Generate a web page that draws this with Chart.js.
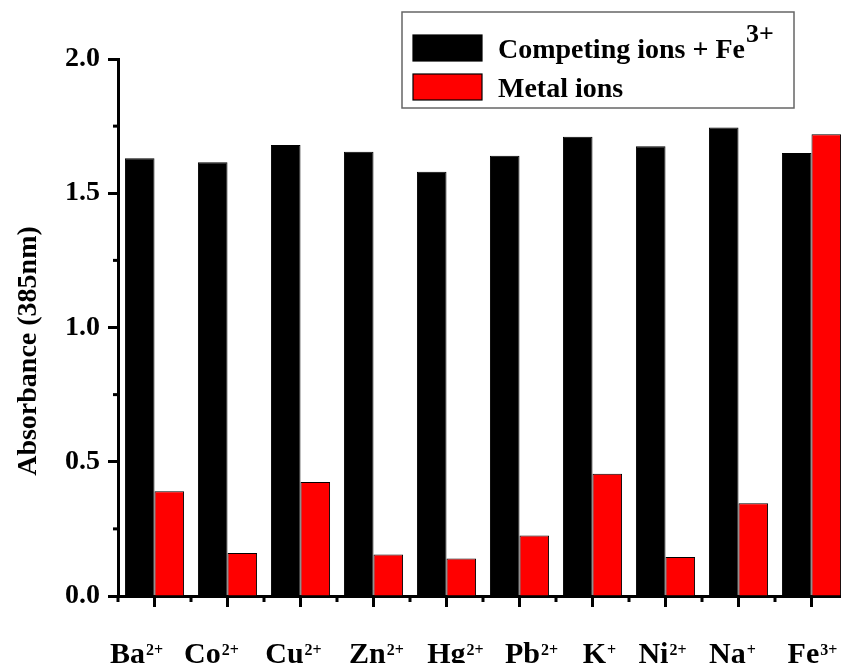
<!DOCTYPE html>
<html>
<head>
<meta charset="utf-8">
<script src="https://cdn.jsdelivr.net/npm/chart.js@4/dist/chart.umd.min.js"></script>
<style>
  html, body { margin: 0; padding: 0; background: #fff; }
  #wrap { width: 841px; height: 663px; overflow: hidden; position: relative; }
  canvas { display: block; }
</style>
</head>
<body>
<div id="wrap"><canvas id="c" width="880" height="663"></canvas></div>
<script>
// Ions tested (symbol and charge drawn as superscript)
const ionSymbols = ["Ba", "Co", "Cu", "Zn", "Hg", "Pb", "K", "Ni", "Na", "Fe"];
const ionCharges = ["2+", "2+", "2+", "2+", "2+", "2+", "+", "2+", "+", "3+"];

// Absorbance at 385 nm
const competingPlusFe = [1.63, 1.615, 1.68, 1.655, 1.58, 1.64, 1.71, 1.675, 1.745, 1.65];
const metalIons       = [0.39, 0.16, 0.425, 0.155, 0.14, 0.225, 0.455, 0.145, 0.345, 1.72];

// Legend entries (text + superscript)
const legendTexts = ["Competing ions + Fe", "Metal ions"];
const legendSups  = ["3+", ""];

// Y axis
const yMin = 0, yMax = 2.0, yStep = 0.5;
const yMinorTicks = [0.25, 0.75, 1.25, 1.75];
const yTitle = "Absorbance (385nm)";

const FONT = '"Liberation Serif", "Times New Roman", serif';
const seriesColors = ["#000000", "#ff0000"];

// small horizontal nudges of the hand-placed category labels (px)
const LABEL_NUDGE = [-18, -16, -7, 3, 9, 12, 7, -3, -6, 1];

const decor = {
  id: 'decor',
  afterDraw(chart) {
    const ctx = chart.ctx;
    const xs = chart.scales.x, ys = chart.scales.y;
    const area = chart.chartArea;
    ctx.save();
    ctx.strokeStyle = '#000';
    ctx.lineWidth = 3;

    // x ticks: major at category centres, minor at category boundaries
    const half = (xs.getPixelForValue(1) - xs.getPixelForValue(0)) / 2;
    ionSymbols.forEach((s, i) => {
      const cx = xs.getPixelForValue(i);
      ctx.beginPath();
      ctx.moveTo(cx, area.bottom); ctx.lineTo(cx, area.bottom + 11);
      ctx.stroke();
      ctx.beginPath();
      ctx.moveTo(cx - half, area.bottom); ctx.lineTo(cx - half, area.bottom + 6);
      ctx.stroke();
      if (i === ionSymbols.length - 1) {
        ctx.beginPath();
        ctx.moveTo(cx + half, area.bottom); ctx.lineTo(cx + half, area.bottom + 6);
        ctx.stroke();
      }
    });

    // y minor ticks
    yMinorTicks.forEach(v => {
      const py = ys.getPixelForValue(v);
      ctx.beginPath();
      ctx.moveTo(area.left - 5, py); ctx.lineTo(area.left, py);
      ctx.stroke();
    });

    // x labels with superscript charges
    ctx.fillStyle = '#000';
    ctx.textBaseline = 'alphabetic';
    ctx.textAlign = 'left';
    const mainFont = 'bold 30px ' + FONT;
    const supFont = 'bold 16px ' + FONT;
    ionSymbols.forEach((s, i) => {
      const cx = xs.getPixelForValue(i) + LABEL_NUDGE[i];
      ctx.font = mainFont;
      const w1 = ctx.measureText(s).width;
      ctx.font = supFont;
      const w2 = ctx.measureText(ionCharges[i]).width;
      const x0 = cx - (w1 + w2 + 1) / 2;
      ctx.font = mainFont;
      ctx.fillText(s, x0, 663);
      ctx.font = supFont;
      ctx.fillText(ionCharges[i], x0 + w1 + 1, 655);
    });

    // y axis title
    ctx.save();
    ctx.translate(29, 351);
    ctx.rotate(-Math.PI / 2);
    ctx.font = 'bold 28px ' + FONT;
    ctx.textAlign = 'center';
    ctx.textBaseline = 'middle';
    ctx.fillText(yTitle, 0, 0);
    ctx.restore();

    // legend box
    ctx.lineWidth = 1.5;
    ctx.strokeStyle = '#666';
    ctx.strokeRect(402, 12, 392, 96);
    const rowsY = [35, 74];
    const baselines = [58, 97];
    legendTexts.forEach((t, i) => {
      ctx.fillStyle = seriesColors[i];
      ctx.fillRect(413, rowsY[i], 69, 26);
      ctx.lineWidth = 1.2;
      ctx.strokeStyle = '#000';
      ctx.strokeRect(413, rowsY[i], 69, 26);
      ctx.fillStyle = '#000';
      ctx.font = 'bold 28px ' + FONT;
      ctx.textAlign = 'left';
      ctx.fillText(t, 498, baselines[i]);
      if (legendSups[i]) {
        const w = ctx.measureText(t).width;
        ctx.font = 'bold 26px ' + FONT;
        ctx.fillText(legendSups[i], 498 + w + 1, baselines[i] - 16);
      }
    });
    ctx.restore();
  }
};

new Chart(document.getElementById('c'), {
  type: 'bar',
  data: {
    labels: ionSymbols.map((s, i) => s + ionCharges[i]),
    datasets: [
      {
        label: legendTexts[0] + legendSups[0],
        data: competingPlusFe,
        backgroundColor: seriesColors[0],
        borderColor: '#000',
        borderWidth: 1
      },
      {
        label: legendTexts[1],
        data: metalIons,
        backgroundColor: seriesColors[1],
        borderColor: '#000',
        borderWidth: 1
      }
    ]
  },
  options: {
    responsive: false,
    animation: false,
    devicePixelRatio: 1,
    layout: { padding: { top: 59, right: 32, left: 0, bottom: 0 } },
    datasets: { bar: { categoryPercentage: 0.81, barPercentage: 1.0 } },
    plugins: { legend: { display: false }, tooltip: { enabled: false } },
    scales: {
      x: {
        offset: true,
        grid: { display: false },
        border: { display: true, width: 3, color: '#000' },
        ticks: { display: false },
        afterFit(scale) { scale.height = 67; }
      },
      y: {
        min: yMin,
        max: yMax,
        grid: { drawOnChartArea: false, drawTicks: true, tickLength: 10, tickWidth: 3, tickColor: '#000', color: '#000' },
        border: { display: true, width: 3, color: '#000' },
        ticks: {
          stepSize: yStep,
          padding: 8,
          color: '#000',
          font: { family: FONT, size: 28, weight: 'bold' },
          callback: v => v.toFixed(1)
        },
        afterFit(scale) { scale.width = 118; }
      }
    }
  },
  plugins: [decor]
});
</script>
</body>
</html>
